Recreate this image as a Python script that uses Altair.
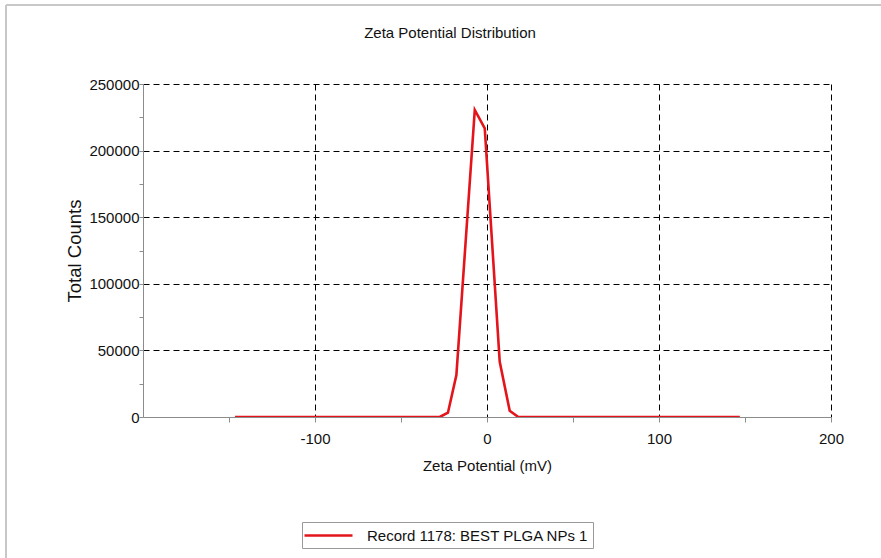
import altair as alt
import pandas as pd

# ---- data ----
zeta_mv = [-146.5, -27.5, -22.7, -17.8, -7.1, -1.3, 7.4, 13.2, 18.2, 147.0]
total_counts = [0, 0, 3200, 31500, 230500, 216700, 41500, 4700, 0, 0]
series_name = "Record 1178: BEST PLGA NPs 1"

x_ticks = [-150, -100, -50, 0, 50, 100, 150, 200]
y_ticks = [0, 25000, 50000, 75000, 100000, 125000, 150000, 175000, 200000, 225000, 250000]

df = pd.DataFrame({"zeta": zeta_mv, "counts": total_counts, "series": [series_name] * len(zeta_mv)})

FONT = "Liberation Sans"
RED = "#e3141b"
AX = "#8c8c8c"
TXT = "#111111"

W, H = 688, 333
PAD = {"left": 143, "top": 84, "right": 881 - 143 - W, "bottom": 558 - 84 - H}

line = alt.Chart(df).mark_line(color=RED, strokeWidth=2.6, clip=True).encode(
    x=alt.X(
        "zeta:Q",
        title="Zeta Potential (mV)",
        scale=alt.Scale(domain=[-200, 200], nice=False, zero=False),
        axis=alt.Axis(
            values=x_ticks,
            labelExpr="datum.value % 100 === 0 ? '' + datum.value : ''",
            grid=True,
            gridColor="black",
            gridDash=[6, 4],
            gridWidth=1,
            gridOpacity={"condition": {"test": "datum.value % 100 === 0 && datum.value > -200", "value": 1}, "value": 0},
            domainColor=AX,
            tickColor=AX,
            tickSize=5,
            labelPadding=9,
            labelFont=FONT,
            labelFontSize=15,
            labelColor=TXT,
            labelFlush=False,
            titleFont=FONT,
            titleFontSize=15,
            titleFontWeight="normal",
            titleColor=TXT,
            titlePadding=12,
        ),
    ),
    y=alt.Y(
        "counts:Q",
        title="Total Counts",
        scale=alt.Scale(domain=[0, 250000], nice=False),
        axis=alt.Axis(
            values=y_ticks,
            labelExpr="datum.value % 50000 === 0 ? '' + datum.value : ''",
            grid=True,
            gridColor="black",
            gridDash=[6, 4],
            gridWidth=1,
            gridOpacity={"condition": {"test": "datum.value % 50000 === 0 && datum.value > 0", "value": 1}, "value": 0},
            domainColor=AX,
            tickColor=AX,
            tickSize=4,
            labelPadding=0,
            labelFont=FONT,
            labelFontSize=15,
            labelColor=TXT,
            labelFlush=False,
            titleFont=FONT,
            titleFontSize=18.5,
            titleFontWeight="normal",
            titleColor=TXT,
            titlePadding=4,
        ),
    ),
    color=alt.Color(
        "series:N",
        scale=alt.Scale(domain=[series_name], range=[RED]),
        legend=alt.Legend(
            title=None,
            orient="none",
            legendX=159,
            legendY=438,
            symbolType="M-3,0H3",
            symbolSize=256,
            symbolOffset=13,
            symbolStrokeWidth=2.6,
            strokeColor="#999999",
            fillColor="white",
            padding=4,
            labelFont=FONT,
            labelFontSize=15,
            labelColor=TXT,
            labelOffset=29,
            labelLimit=400,
        ),
    ),
)

one = alt.Data(values=[{"k": 1}])
border_top = alt.Chart(one).mark_rule(color="#c8c8c8", strokeWidth=2).encode(
    x=alt.value(-137), x2=alt.value(881 - 143), y=alt.value(5 - 84)
)
border_left = alt.Chart(one).mark_rule(color="#c8c8c8", strokeWidth=2).encode(
    x=alt.value(6 - 143), y=alt.value(5 - 84), y2=alt.value(558 - 84)
)

chart = (
    alt.layer(border_top, border_left, line)
    .properties(
        width=W,
        height=H,
        padding=PAD,
        autosize=alt.AutoSizeParams(type="none"),
        background="white",
        title=alt.TitleParams(
            "Zeta Potential Distribution",
            font=FONT,
            fontSize=15,
            fontWeight="normal",
            color=TXT,
            anchor="middle",
            frame="group",
            dx=-37,
            offset=0,
            dy=37,
        ),
    )
    .configure_view(stroke=None)
)

chart.save("out.html", embed_options={"renderer": "svg", "actions": False})
